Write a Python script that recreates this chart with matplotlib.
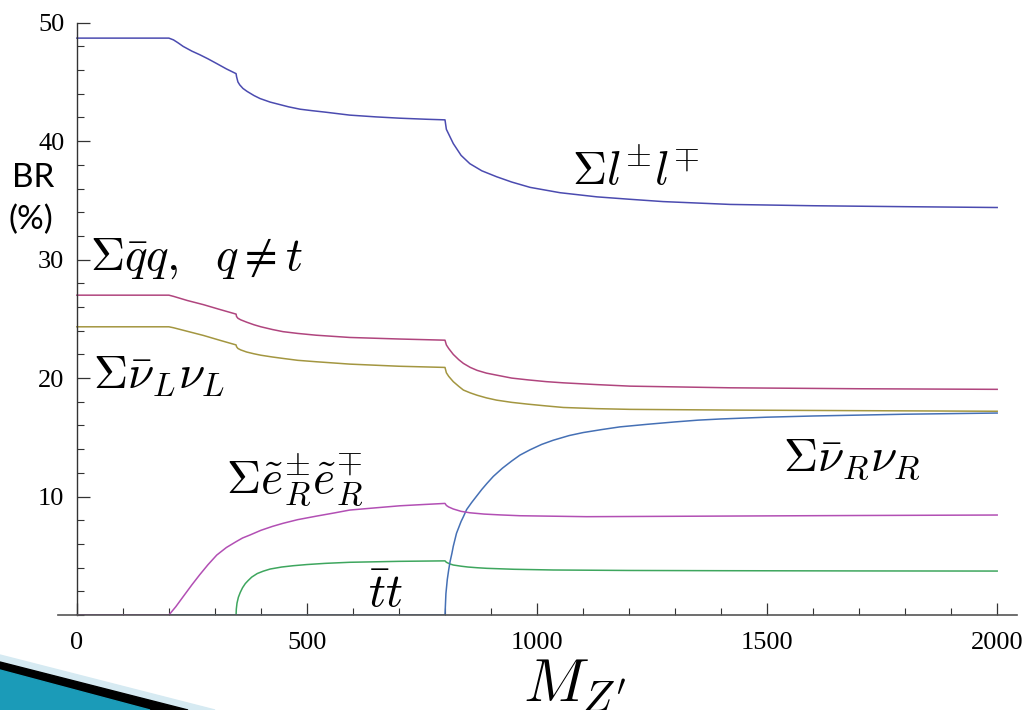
import matplotlib
matplotlib.use("Agg")
import matplotlib.pyplot as plt
from matplotlib.patches import Polygon
from matplotlib.ticker import MultipleLocator

# ---- data (x = M_Z' in GeV, y = BR in %) ----
ll_x = [0, 200, 210, 220, 231, 250, 267, 285, 304, 325, 346,
        347, 350, 354, 361, 370, 385, 398, 420, 440, 460, 485, 510, 540, 593, 650, 702, 760, 800,
        803, 808, 818, 835, 854, 880, 912, 945, 985, 1050, 1130, 1200, 1274, 1420, 1600, 1800, 2000]
ll_y = [48.7, 48.7, 48.55, 48.3, 48.0, 47.6, 47.3, 46.95, 46.55, 46.1, 45.7,
        45.45, 45.0, 44.75, 44.45, 44.2, 43.85, 43.6, 43.3, 43.1, 42.9, 42.7, 42.58, 42.45, 42.2, 42.05, 41.94, 41.85, 41.8,
        41.0, 40.6, 39.8, 38.8, 38.1, 37.5, 37.0, 36.55, 36.1, 35.65, 35.3, 35.1, 34.9, 34.66, 34.55, 34.47, 34.4]

qq_x = [0, 200, 210, 240, 275, 310, 346,
        347, 350, 356, 369, 385, 400, 425, 448, 480, 520, 593, 700, 800,
        803, 808, 818, 830, 840, 855, 870, 890, 912, 945, 980, 1020, 1057, 1130, 1202, 1420, 1700, 2000]
qq_y = [27.0, 27.0, 26.9, 26.55, 26.2, 25.8, 25.4,
        25.2, 25.05, 24.92, 24.72, 24.5, 24.33, 24.1, 23.92, 23.77, 23.62, 23.43, 23.3, 23.2,
        22.8, 22.5, 22.0, 21.55, 21.24, 20.9, 20.65, 20.42, 20.25, 20.0, 19.85, 19.7, 19.6, 19.45, 19.32, 19.18, 19.1, 19.05]

nul_x = qq_x
nul_y = [24.33, 24.33, 24.25, 23.95, 23.6, 23.2, 22.8,
         22.65, 22.5, 22.38, 22.2, 22.05, 21.93, 21.78, 21.66, 21.5, 21.38, 21.18, 21.0, 20.9,
         20.45, 20.15, 19.7, 19.3, 18.99, 18.75, 18.55, 18.33, 18.14, 17.95, 17.8, 17.65, 17.52, 17.42, 17.36, 17.3, 17.25, 17.2]

tt_x = [0, 346, 346.5, 348, 351, 355, 360, 366, 372, 380, 392, 405, 420, 445, 470, 500, 540, 593, 700, 800,
        803, 810, 818, 835, 850, 870, 891, 950, 1035, 1200, 1400, 1700, 2000]
tt_y = [0, 0, 0.5, 1.0, 1.5, 1.9, 2.3, 2.65, 2.9, 3.2, 3.5, 3.7, 3.88, 4.05, 4.16, 4.26, 4.36, 4.45, 4.53, 4.57,
        4.45, 4.32, 4.22, 4.12, 4.05, 3.99, 3.94, 3.86, 3.8, 3.76, 3.74, 3.72, 3.71]

nur_x = [0, 800, 802, 805, 808, 811, 815, 818, 825, 830, 835, 840, 847, 858, 870, 880, 891, 905, 925, 945,
         963, 985, 1010, 1035, 1070, 1100, 1140, 1180, 1240, 1300, 1350, 1400, 1500, 1600, 1800, 2000]
nur_y = [0, 0, 1.8, 3.0, 3.8, 4.5, 5.2, 5.8, 6.9, 7.4, 7.9, 8.3, 8.9, 9.5, 10.1, 10.6, 11.1, 11.7, 12.4, 13.0,
         13.5, 13.95, 14.4, 14.75, 15.15, 15.4, 15.65, 15.88, 16.1, 16.3, 16.45, 16.55, 16.7, 16.8, 16.95, 17.05]

ee_x = [0, 200, 215, 231, 250, 267, 285, 304, 325, 346,
        360, 376, 400, 425, 448, 480, 521, 560, 593, 650, 702, 750, 800,
        803, 808, 818, 835, 854, 885, 920, 963, 1108, 1398, 1700, 2000]
ee_y = [0, 0, 0.7, 1.55, 2.55, 3.4, 4.25, 5.06, 5.7, 6.19,
        6.5, 6.75, 7.15, 7.48, 7.74, 8.05, 8.35, 8.62, 8.86, 9.05, 9.22, 9.32, 9.42,
        9.25, 9.12, 8.95, 8.75, 8.63, 8.52, 8.45, 8.38, 8.3, 8.35, 8.4, 8.44]

series = [
    (ll_x, ll_y, '#4b4bb0'),
    (qq_x, qq_y, '#b0457e'),
    (nul_x, nul_y, '#a39640'),
    (tt_x, tt_y, '#3ea65e'),
    (nur_x, nur_y, '#4570b5'),
    (ee_x, ee_y, '#b24fb4'),
]

labels = [
    (1076, 37.4, r'$\Sigma l^{\pm} l^{\mp}$'),
    (28, 30.1, r'$\Sigma \bar{q} q,\ \ q \neq t$'),
    (35, 20.25, r'$\Sigma \bar{\nu}_L \nu_L$'),
    (324, 11.4, r'$\Sigma \tilde{e}_R^{\pm} \tilde{e}_R^{\mp}$'),
    (1535, 13.1, r'$\Sigma \bar{\nu}_R \nu_R$'),
    (633, 1.7, r'$\bar{t} t$'),
]

plt.rcParams['mathtext.fontset'] = 'cm'

fig = plt.figure(figsize=(10.23, 7.10), dpi=100)
ax = fig.add_axes([0.0567, 0.1338, 0.9374, 0.8342])

for x, y, c in series:
    ax.plot(x, y, color=c, lw=1.1)

ax.set_xlim(-41, 2043)
ax.set_ylim(0, 50)

for side in ['top', 'right']:
    ax.spines[side].set_visible(False)
ax.spines['left'].set_position(('data', 0))
ax.spines['left'].set_color('#333333')
ax.spines['bottom'].set_color('#555555')
ax.spines['left'].set_linewidth(1.0)
ax.spines['bottom'].set_linewidth(1.2)

ax.xaxis.set_major_locator(MultipleLocator(500))
ax.xaxis.set_minor_locator(MultipleLocator(100))
ax.set_yticks([10, 20, 30, 40, 50])
ax.yaxis.set_minor_locator(MultipleLocator(2))
ax.tick_params(which='both', direction='in', color='#333333')
ax.tick_params(which='major', length=9, width=0.9)
ax.tick_params(which='minor', length=5, width=0.8)
ax.tick_params(axis='x', pad=12)
ax.tick_params(axis='y', pad=9)
for lab in ax.get_xticklabels() + ax.get_yticklabels():
    lab.set_fontfamily('Liberation Serif')
    lab.set_fontsize(19)

for x, y, s in labels:
    ax.text(x, y, s, fontsize=34, va='center', ha='left')

# axis label sits at the slide's bottom edge, as in the original
fig.text(575 / 1023, 1 - 685 / 710, r'$M_{Z^{\prime}}$', fontsize=44, ha='center', va='center')
fig.text(12 / 1023, 1 - 178 / 710, 'BR', fontsize=24, family='Lato', ha='left', va='center')
fig.text(9 / 1023, 1 - 220 / 710, '(%)', fontsize=24, family='Lato', ha='left', va='center')

# slide decoration in the lower-left corner
W, H = 1023, 710
def px(pts):
    return [(a / W, 1 - b / H) for a, b in pts]
fig.patches.append(Polygon(px([(0, 655), (215, 710), (0, 710)]), closed=True,
                           transform=fig.transFigure, color='#d6eaf2', zorder=0))
fig.patches.append(Polygon(px([(0, 662), (188, 710), (0, 710)]), closed=True,
                           transform=fig.transFigure, color='black', zorder=0))
fig.patches.append(Polygon(px([(0, 670), (150, 710), (0, 710)]), closed=True,
                           transform=fig.transFigure, facecolor='#1b9bb8', edgecolor='#1b9bb8',
                           zorder=0))

fig.savefig('out.png', dpi=100)
